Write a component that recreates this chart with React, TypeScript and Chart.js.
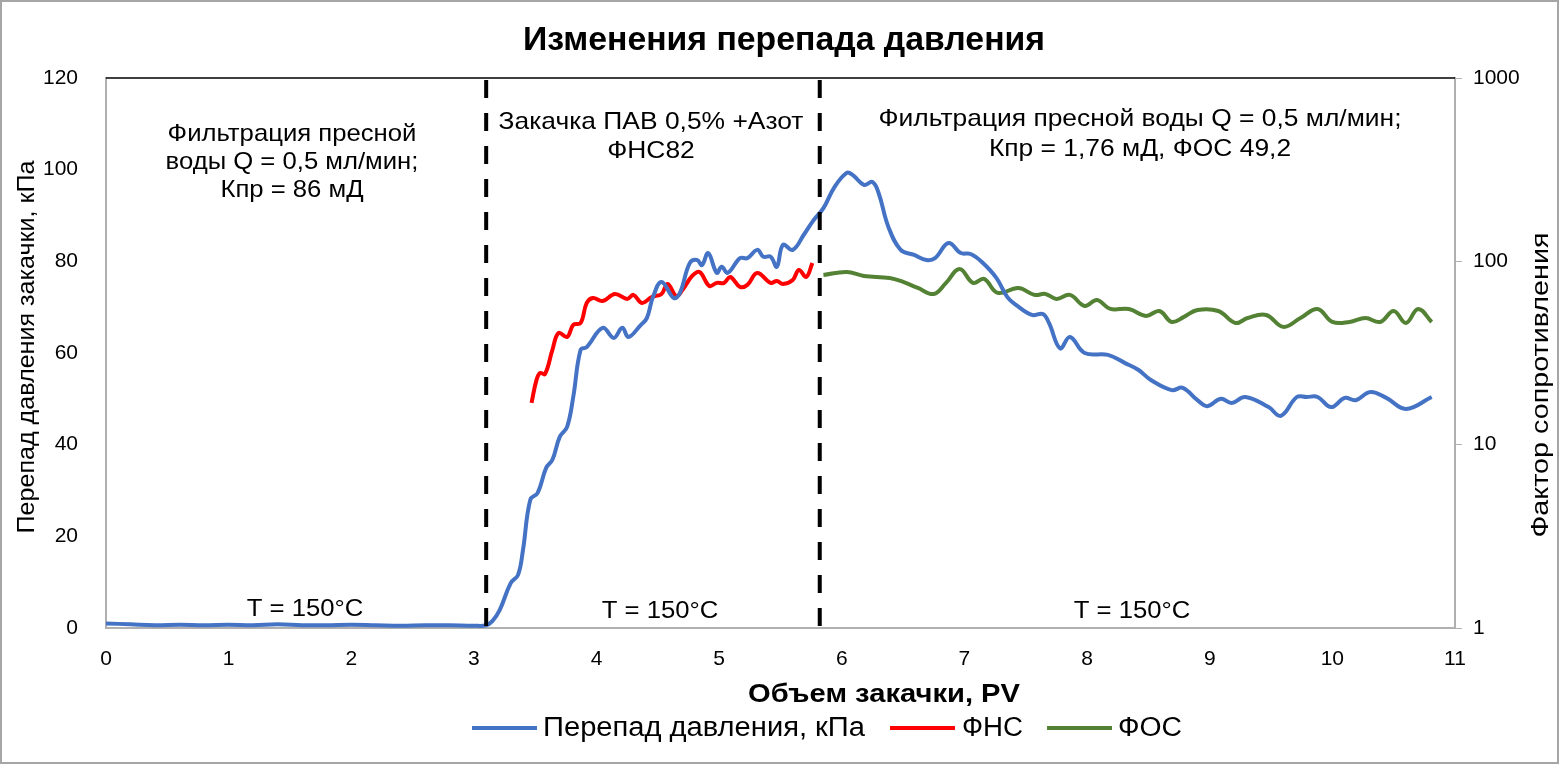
import { useEffect, useRef } from "react";
import { Chart, registerables } from "chart.js";

Chart.register(...registerables);

const FONT = "'Liberation Sans', Arial, sans-serif";

// Перепад давления, кПа (left axis)
const pressureX = [
  0, 0.2, 0.4, 0.6, 0.8, 1.0, 1.2, 1.4, 1.6, 1.8, 2.0, 2.2, 2.4, 2.6, 2.8, 3.0, 3.1,
  3.15, 3.21, 3.3, 3.36, 3.4, 3.46, 3.52, 3.59, 3.64, 3.7, 3.76, 3.81, 3.87, 3.92,
  4.05, 4.14, 4.21, 4.26, 4.36, 4.41, 4.46, 4.53, 4.63, 4.68, 4.76, 4.82, 4.86, 4.91,
  4.98, 5.02, 5.07, 5.17, 5.23, 5.31, 5.36, 5.42, 5.47, 5.52, 5.6, 5.69, 5.77, 5.85,
  5.94, 6.04, 6.09, 6.18, 6.25, 6.3, 6.38, 6.48, 6.59, 6.69, 6.76, 6.87, 6.97, 7.05,
  7.14, 7.26, 7.35, 7.42, 7.55, 7.64, 7.69, 7.78, 7.86, 7.98, 8.17, 8.31, 8.42, 8.52,
  8.69, 8.78, 8.9, 8.98, 9.09, 9.18, 9.29, 9.48, 9.58, 9.71, 9.79, 9.88, 9.99, 10.1,
  10.19, 10.31, 10.44, 10.6, 10.81,
];
const pressureY = [
  1.0, 0.8, 0.6, 0.7, 0.6, 0.7, 0.6, 0.8, 0.6, 0.6, 0.7, 0.6, 0.5, 0.6, 0.6, 0.5, 0.6,
  1.5, 3.9, 9.8, 11.6, 17, 28, 29.5, 35, 36.7, 41.7, 43.9, 50.4, 60.7, 61.3,
  65.5, 63.3, 65.5, 63.5, 66.1, 67.6, 72.2, 75.5, 72, 73.1, 79.6, 80.3, 79.2, 81.8,
  77.5, 78.8, 77.5, 80.7, 80.7, 82.5, 81, 81, 78.8, 83.6, 82.5, 85.8, 89, 91.6,
  96.2, 99.3, 98.8, 96.7, 97.3, 94.9, 87.5, 82.5, 81.4, 80.3, 80.7, 84, 81.8, 81.6,
  79.9, 76.4, 72.2, 70.5, 68.3, 68.5, 66.5, 61, 63.5, 60, 59.6, 57.8, 56.3, 54.1,
  51.9, 52.4, 49.7, 48.4, 50, 49.1, 50.4, 48.2, 46.3, 50.4, 50.4, 50.4, 48.2, 50.2,
  49.7, 51.5, 50.2, 47.8, 50.4,
];

// ФНС (right axis, log)
const fnsX = [
  3.47, 3.51, 3.54, 3.58, 3.64, 3.69, 3.76, 3.81, 3.87, 3.92, 3.97, 4.05, 4.15, 4.25,
  4.3, 4.37, 4.45, 4.53, 4.58, 4.65, 4.7, 4.78, 4.84, 4.92, 4.98, 5.04, 5.09, 5.17,
  5.23, 5.31, 5.42, 5.47, 5.52, 5.6, 5.65, 5.71, 5.76,
];
const fnsY = [
  16.9, 22.5, 24.6, 24.3, 32.9, 40.7, 38.7, 45, 46.1, 59.3, 63.1, 60.8, 66.4, 62.4,
  65.6, 59.3, 63.9, 66.4, 75.3, 64.7, 69.8, 83.2, 87.5, 73.4, 76.3, 76.3, 82.2, 72.5,
  74.4, 86.4, 76.3, 78.2, 75.3, 79.2, 89.8, 82.2, 98,
];

// ФОС (right axis, log)
const fosX = [
  5.85, 6.04, 6.18, 6.39, 6.5, 6.62, 6.75, 6.85, 6.96, 7.07, 7.16, 7.27, 7.44, 7.57,
  7.66, 7.75, 7.86, 7.98, 8.08, 8.19, 8.34, 8.48, 8.59, 8.69, 8.79, 8.9, 9.07, 9.21,
  9.31, 9.46, 9.6, 9.74, 9.88, 10.0, 10.14, 10.27, 10.39, 10.5, 10.6, 10.7, 10.81,
];
const fosY = [
  84.3, 87.5, 83.2, 81.1, 77.2, 71.6, 66.4, 76.3, 90.9, 76.3, 80.2, 67.3, 71.6, 65.6,
  66.4, 62.4, 65.6, 57.1, 61.5, 55, 55, 50.4, 53.6, 46.7, 49.8, 54.3, 53.6, 46.1,
  49.1, 51, 43.9, 49.1, 55, 46.7, 46.7, 49.1, 46.7, 53.6, 46.1, 55, 46.7,
];

const logTicks = [1, 10, 100, 1000];
const stageLines = [3.1, 5.82];

const zip = (xs: number[], ys: number[]) => xs.map((x, i) => ({ x, y: ys[i] }));

// draw text squeezed/stretched to a target width
function fitText(
  c: CanvasRenderingContext2D,
  text: string,
  x: number,
  y: number,
  font: string,
  width: number,
  align: CanvasTextAlign = "center",
  rotate = 0
) {
  c.save();
  c.font = font;
  c.textAlign = align;
  const sx = width / c.measureText(text).width;
  c.translate(x, y);
  if (rotate) c.rotate(rotate);
  c.scale(sx, 1);
  c.fillText(text, 0, 0);
  c.restore();
}

const textPlugin = {
  id: "texts",
  beforeDraw(chart: any) {
    const c = chart.ctx;
    c.save();
    c.fillStyle = "#ffffff";
    c.fillRect(0, 0, chart.width, chart.height);
    c.restore();
  },
  afterDatasetsDraw(chart: any) {
    const c = chart.ctx;
    const xs = chart.scales.x;
    const { top, bottom, left, right } = chart.chartArea;
    c.save();
    // stage separators
    c.strokeStyle = "#000000";
    c.lineWidth = 4;
    c.setLineDash([18, 15]);
    stageLines.forEach((v) => {
      const px = xs.getPixelForValue(v);
      c.beginPath();
      c.moveTo(px, top + 2);
      c.lineTo(px, bottom);
      c.stroke();
    });
    c.setLineDash([]);
    // top border of plot area
    c.strokeStyle = "#000000";
    c.lineWidth = 1.5;
    c.beginPath();
    c.moveTo(left, top);
    c.lineTo(right, top);
    c.stroke();

    c.fillStyle = "#000000";
    c.textBaseline = "alphabetic";
    const f = `24px ${FONT}`;
    const block = (arr: string[], x: number, y0: number, dy: number, s: number) =>
      arr.forEach((t, i) => {
        c.font = f;
        fitText(c, t, x, y0 + i * dy, f, c.measureText(t).width * s);
      });
    block(["Фильтрация пресной", "воды Q = 0,5 мл/мин;", "Кпр = 86 мД"], 292, 141, 28, 1.07);
    block(["Закачка ПАВ 0,5% +Азот", "ФНС82"], 651, 129, 29, 1.1);
    block(["Фильтрация пресной воды Q = 0,5 мл/мин;", "Кпр = 1,76 мД, ФОС 49,2"], 1140, 126, 30, 1.1);
    block(["T = 150°C"], 305, 616, 0, 1.07);
    block(["T = 150°C"], 660, 618, 0, 1.07);
    block(["T = 150°C"], 1132, 618, 0, 1.07);
    c.restore();
  },
  afterDraw(chart: any) {
    const c = chart.ctx;
    c.save();
    c.fillStyle = "#000000";
    c.textBaseline = "middle";
    fitText(c, "Изменения перепада давления", 784, 41, `bold 33px ${FONT}`, 522);
    fitText(c, "Объем закачки, PV", 884, 695, `bold 26px ${FONT}`, 272);
    fitText(c, "Перепад давления закачки, кПа", 27, 347, `24px ${FONT}`, 373, "center", -Math.PI / 2);
    fitText(c, "Фактор сопротивления", 1541, 385, `24px ${FONT}`, 305, "center", -Math.PI / 2);

    // legend
    c.lineWidth = 4;
    const items: [string, string, number, number, number][] = [
      ["Перепад давления, кПа", "#4472C4", 472, 543, 322],
      ["ФНС", "#FF0000", 890, 962, 61],
      ["ФОС", "#548235", 1047, 1118, 64],
    ];
    items.forEach(([label, color, x0, tx, w]) => {
      c.strokeStyle = color;
      c.beginPath();
      c.moveTo(x0, 728);
      c.lineTo(x0 + 65, 728);
      c.stroke();
      fitText(c, label, tx, 729, `27px ${FONT}`, w, "left");
    });

    // outer border
    c.strokeStyle = "#a6a6a6";
    c.lineWidth = 2;
    c.strokeRect(1, 1, chart.width - 2, chart.height - 2);
    c.restore();
  },
};

export default function App() {
  const canvasRef = useRef<HTMLCanvasElement>(null);
  const chartRef = useRef<Chart | null>(null);

  useEffect(() => {
    document.body.style.margin = "0";
    if (!canvasRef.current) return;
    if (chartRef.current) chartRef.current.destroy();

    chartRef.current = new Chart(canvasRef.current, {
      type: "line",
      data: {
        datasets: [
          {
            label: "Перепад давления, кПа",
            data: zip(pressureX, pressureY),
            borderColor: "#4472C4",
            borderWidth: 4,
            pointRadius: 0,
            tension: 0.4,
            yAxisID: "y",
          },
          {
            label: "ФНС",
            data: zip(fnsX, fnsY),
            borderColor: "#FF0000",
            borderWidth: 4,
            pointRadius: 0,
            tension: 0.4,
            yAxisID: "y2",
          },
          {
            label: "ФОС",
            data: zip(fosX, fosY),
            borderColor: "#548235",
            borderWidth: 4,
            pointRadius: 0,
            tension: 0.4,
            yAxisID: "y2",
          },
        ],
      },
      options: {
        responsive: false,
        animation: false,
        layout: { padding: { top: 78, left: 0, right: 0, bottom: 0 } },
        plugins: {
          legend: { display: false },
          title: { display: false },
          tooltip: { enabled: false },
        },
        scales: {
          x: {
            type: "linear",
            min: 0,
            max: 11,
            afterFit: (s: any) => {
              s.height = 136;
            },
            ticks: { stepSize: 1, padding: 11, color: "#000", font: { family: FONT, size: 21 } },
            grid: { display: false },
            border: { color: "#b0b0b0", width: 2 },
          },
          y: {
            position: "left",
            min: 0,
            max: 120,
            afterFit: (s: any) => {
              s.width = 106;
            },
            ticks: { stepSize: 20, padding: 20, color: "#000", font: { family: FONT, size: 21 } },
            grid: { display: false },
            border: { color: "#b0b0b0", width: 2 },
          },
          y2: {
            type: "logarithmic",
            position: "right",
            min: 1,
            max: 1000,
            afterFit: (s: any) => {
              s.width = 104;
            },
            afterBuildTicks: (s: any) => {
              s.ticks = logTicks.map((v) => ({ value: v }));
            },
            ticks: {
              padding: 11,
              color: "#000",
              font: { family: FONT, size: 21 },
              callback: (v: any) => String(v),
            },
            grid: { display: true, drawOnChartArea: false, drawTicks: true, tickLength: 7, color: "#b0b0b0" },
            border: { color: "#b0b0b0", width: 2 },
          },
        },
      },
      plugins: [textPlugin],
    });

    return () => {
      if (chartRef.current) {
        chartRef.current.destroy();
        chartRef.current = null;
      }
    };
  }, []);

  return <canvas ref={canvasRef} width={1559} height={764} style={{ display: "block" }}></canvas>;
}
